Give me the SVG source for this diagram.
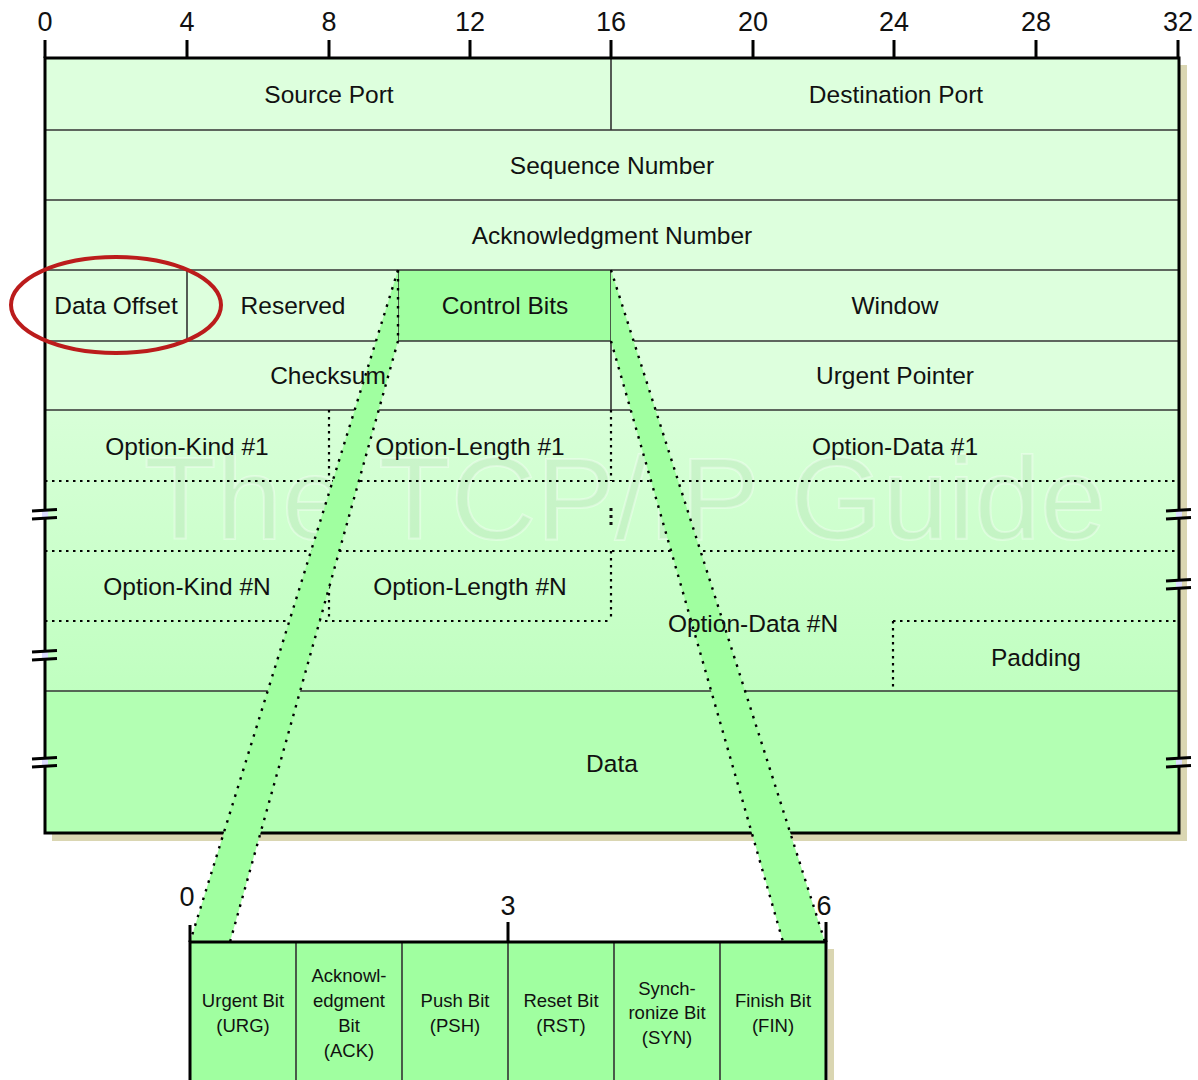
<svg xmlns="http://www.w3.org/2000/svg" width="1198" height="1080" viewBox="0 0 1198 1080">
<defs>
<style>
text{font-family:"Liberation Sans",Arial,sans-serif;fill:#111;text-anchor:middle;dominant-baseline:central}
.t{font-size:24.5px}
.n{font-size:27px}
.s{font-size:18.5px}
.sl{stroke:#333;stroke-width:1.6;fill:none}
.bd{stroke:#000;stroke-width:3;fill:none}
.dot{stroke:#000;stroke-width:2.2;stroke-dasharray:2.5 4.5;fill:none}
.bdot{stroke:#000;stroke-width:2.4;stroke-dasharray:2.5 6.5;fill:none}
.tick{stroke:#000;stroke-width:3}
.brk line{stroke:#000;stroke-width:3}
</style>
<linearGradient id="og" x1="0" y1="0" x2="0" y2="1">
<stop offset="0" stop-color="#d8ffd8"/>
<stop offset="1" stop-color="#c0ffc0"/>
</linearGradient>
<g id="brk" class="brk">
<rect x="-3" y="-4" width="6" height="8" fill="#dcdcff"/>
<line x1="-13" y1="-3" x2="12" y2="-4.5"/>
<line x1="-13" y1="5" x2="12" y2="3.5"/>
</g>
</defs>
<rect width="1198" height="1080" fill="#fff"/>

<g id="scale">
<g class="tick">
<line x1="45" y1="40" x2="45" y2="58"/><line x1="187" y1="40" x2="187" y2="58"/><line x1="329" y1="40" x2="329" y2="58"/>
<line x1="470" y1="40" x2="470" y2="58"/><line x1="611" y1="40" x2="611" y2="58"/><line x1="753" y1="40" x2="753" y2="58"/>
<line x1="894" y1="40" x2="894" y2="58"/><line x1="1036" y1="40" x2="1036" y2="58"/><line x1="1178" y1="40" x2="1178" y2="58"/>
</g>
<text class="n" x="45" y="22">0</text><text class="n" x="187" y="22">4</text><text class="n" x="329" y="22">8</text>
<text class="n" x="470" y="22">12</text><text class="n" x="611" y="22">16</text><text class="n" x="753" y="22">20</text>
<text class="n" x="894" y="22">24</text><text class="n" x="1036" y="22">28</text><text class="n" x="1178" y="22">32</text>
</g>

<g id="header">
<rect x="52" y="65" width="1135" height="776" fill="#dad6b2"/>
<rect x="45" y="58" width="1134" height="352" fill="#ddffdd"/>
<rect x="45" y="410" width="1134" height="281" fill="url(#og)"/>
<rect x="45" y="691" width="1134" height="142" fill="#b3ffb3"/>
<rect x="398" y="270" width="213" height="71" fill="#a0ffa0"/>
<text x="625" y="499" font-size="116" stroke="#ffffff" stroke-opacity="0.35" stroke-width="2" style="fill:#000;fill-opacity:0.045;font-family:'Liberation Sans',Arial,sans-serif" textLength="962" lengthAdjust="spacingAndGlyphs">The TCP/IP Guide</text>
<g class="sl">
<line x1="45" y1="130" x2="1179" y2="130"/><line x1="45" y1="200" x2="1179" y2="200"/>
<line x1="45" y1="270" x2="1179" y2="270"/><line x1="45" y1="341" x2="1179" y2="341"/>
<line x1="45" y1="410" x2="1179" y2="410"/><line x1="45" y1="691" x2="1179" y2="691"/>
<line x1="611" y1="58" x2="611" y2="130"/><line x1="187" y1="270" x2="187" y2="341"/>
<line x1="398" y1="270" x2="398" y2="341"/><line x1="611" y1="270" x2="611" y2="410"/>
</g>
<g class="dot">
<line x1="45" y1="481" x2="1179" y2="481"/><line x1="45" y1="551" x2="1179" y2="551"/>
<line x1="45" y1="621" x2="611" y2="621"/><line x1="893" y1="621" x2="1179" y2="621"/>
<line x1="329" y1="410" x2="329" y2="481"/><line x1="611" y1="410" x2="611" y2="481"/>
<line x1="329" y1="551" x2="329" y2="621"/><line x1="611" y1="551" x2="611" y2="621"/>
<line x1="893" y1="621" x2="893" y2="691"/>
</g>
<line x1="611" y1="508" x2="611" y2="526" stroke="#111" stroke-width="3" stroke-dasharray="3 4"/>
<path class="bd" d="M45 58 H1179 V833 H45 Z"/>
<use href="#brk" x="45" y="514"/><use href="#brk" x="45" y="655"/><use href="#brk" x="45" y="762"/>
<use href="#brk" x="1179" y="514"/><use href="#brk" x="1179" y="584"/><use href="#brk" x="1179" y="762"/>
</g>

<g id="connectors">
<polygon points="398,270 398,341 230,942 190,942" fill="#a0ffa0"/>
<polygon points="611,270 611,341 783,942 825,942" fill="#a0ffa0"/>
<line class="bdot" x1="398" y1="270" x2="190" y2="942"/>
<line class="bdot" x1="398" y1="341" x2="230" y2="942"/>
<line class="bdot" x1="398" y1="270" x2="398" y2="341"/>
<line class="bdot" x1="611" y1="270" x2="825" y2="942"/>
<line class="bdot" x1="611" y1="341" x2="783" y2="942"/>
</g>

<g id="labels">
<text class="t" x="329" y="94">Source Port</text>
<text class="t" x="896" y="94">Destination Port</text>
<text class="t" x="612" y="165">Sequence Number</text>
<text class="t" x="612" y="235">Acknowledgment Number</text>
<text class="t" x="116" y="305">Data Offset</text>
<text class="t" x="293" y="305">Reserved</text>
<text class="t" x="505" y="305">Control Bits</text>
<text class="t" x="895" y="305">Window</text>
<text class="t" x="328" y="375">Checksum</text>
<text class="t" x="895" y="375">Urgent Pointer</text>
<text class="t" x="187" y="446">Option-Kind #1</text>
<text class="t" x="470" y="446">Option-Length #1</text>
<text class="t" x="895" y="446">Option-Data #1</text>
<text class="t" x="187" y="586">Option-Kind #N</text>
<text class="t" x="470" y="586">Option-Length #N</text>
<text class="t" x="753" y="623">Option-Data #N</text>
<text class="t" x="1036" y="657">Padding</text>
<text class="t" x="612" y="763">Data</text>
</g>

<g id="highlight">
<ellipse cx="116" cy="305" rx="105" ry="48" fill="none" stroke="#bb1c1c" stroke-width="4"/>
</g>

<g id="controlbits">
<rect x="828" y="949" width="6" height="140" fill="#dad6b2"/>
<rect x="190" y="942" width="636" height="145" fill="#a0ffa0"/>
<g class="sl">
<line x1="296" y1="942" x2="296" y2="1080"/><line x1="402" y1="942" x2="402" y2="1080"/>
<line x1="508" y1="942" x2="508" y2="1080"/><line x1="614" y1="942" x2="614" y2="1080"/>
<line x1="720" y1="942" x2="720" y2="1080"/>
</g>
<path class="bd" d="M190 1085 V942 H826 V1085"/>
<g class="tick">
<line x1="190" y1="925" x2="190" y2="942"/><line x1="508" y1="922" x2="508" y2="942"/><line x1="826" y1="922" x2="826" y2="942"/>
</g>
<text class="n" x="187" y="897">0</text>
<text class="n" x="508" y="906">3</text>
<text class="n" x="824" y="906">6</text>
<text class="s" x="243" y="1000">Urgent Bit</text><text class="s" x="243" y="1025">(URG)</text>
<text class="s" x="349" y="975">Acknowl-</text><text class="s" x="349" y="1000">edgment</text><text class="s" x="349" y="1025">Bit</text><text class="s" x="349" y="1050">(ACK)</text>
<text class="s" x="455" y="1000">Push Bit</text><text class="s" x="455" y="1025">(PSH)</text>
<text class="s" x="561" y="1000">Reset Bit</text><text class="s" x="561" y="1025">(RST)</text>
<text class="s" x="667" y="988">Synch-</text><text class="s" x="667" y="1012">ronize Bit</text><text class="s" x="667" y="1037">(SYN)</text>
<text class="s" x="773" y="1000">Finish Bit</text><text class="s" x="773" y="1025">(FIN)</text>
</g>
</svg>
